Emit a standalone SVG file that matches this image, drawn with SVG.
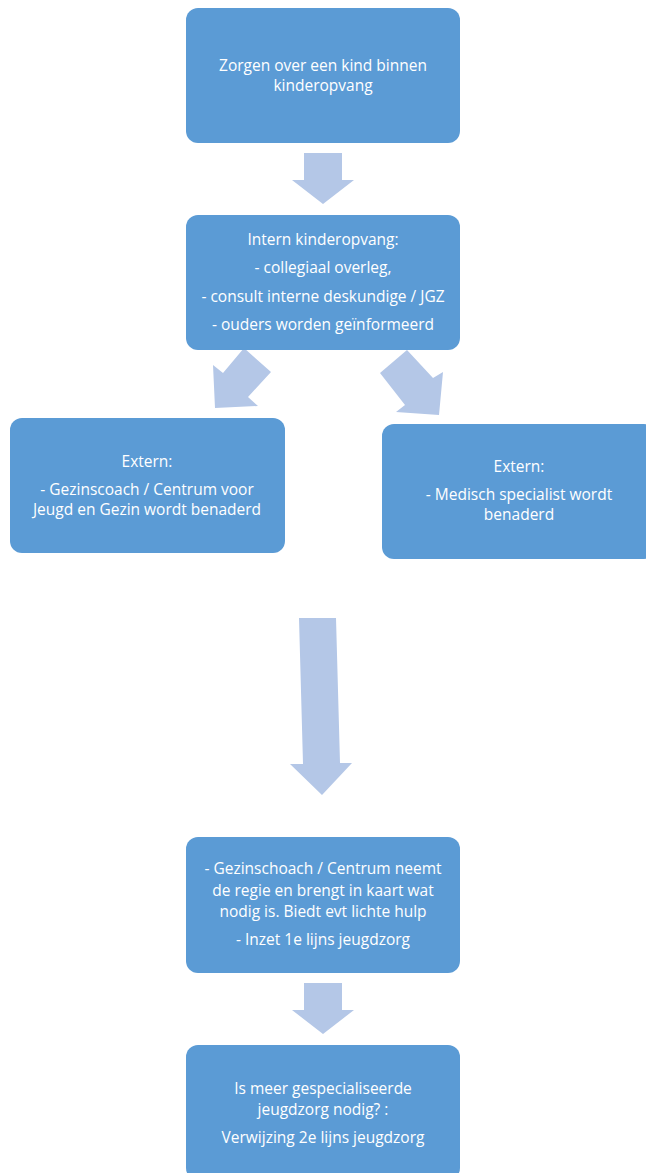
<svg xmlns="http://www.w3.org/2000/svg" width="646" height="1173" viewBox="0 0 646 1173">
<style>
.box{fill:#5B9BD5;}
.arr{fill:#B4C7E7;}
text{font-family:"Open Sans","Liberation Sans",Arial,sans-serif;font-size:15.5px;fill:#FFFFFF;text-anchor:middle;}
</style>
<rect width="646" height="1173" fill="#FFFFFF"/>
<g id="connectors">
<polygon class="arr" points="304,153 342,153 342,180 354,180 323,204 292,180 304,180"/>
<polygon class="arr" points="244,348 271,372 248,397 258,406 215,408 213,365 223,373"/>
<polygon class="arr" points="407,350 380,373 405,405 396,412 439,415 443,372 433,378"/>
<polygon class="arr" points="299,618 336,618 340,763 352,763 322,795 290,764 303,764"/>
<polygon class="arr" points="304,983 342,983 342,1010 354,1010 323,1034 292,1010 304,1010"/>
</g>
<g id="node1">
<rect class="box" x="186" y="8" width="274" height="135" rx="12"/>
<text x="323" y="71">Zorgen over een kind binnen</text>
<text x="323" y="91">kinderopvang</text>
</g>
<g id="node2">
<rect class="box" x="186" y="215" width="274" height="135" rx="12"/>
<text x="323" y="245">Intern kinderopvang:</text>
<text x="323" y="273">- collegiaal overleg,</text>
<text x="323" y="302">- consult interne deskundige / JGZ</text>
<text x="323" y="330">- ouders worden geïnformeerd</text>
</g>
<g id="node3">
<rect class="box" x="10" y="418" width="275" height="135" rx="12"/>
<text x="147" y="467">Extern:</text>
<text x="147" y="495">- Gezinscoach / Centrum voor</text>
<text x="147" y="515">Jeugd en Gezin wordt benaderd</text>
</g>
<g id="node4">
<rect class="box" x="382" y="424" width="274" height="135" rx="12"/>
<text x="519" y="472">Extern:</text>
<text x="519" y="500">- Medisch specialist wordt</text>
<text x="519" y="520">benaderd</text>
</g>
<g id="node5">
<rect class="box" x="186" y="837" width="274" height="136" rx="12"/>
<text x="323" y="874">- Gezinschoach / Centrum neemt</text>
<text x="323" y="896">de regie en brengt in kaart wat</text>
<text x="323" y="917">nodig is. Biedt evt lichte hulp</text>
<text x="323" y="945">- Inzet 1e lijns jeugdzorg</text>
</g>
<g id="node6">
<rect class="box" x="186" y="1045" width="274" height="135" rx="12"/>
<text x="323" y="1094">Is meer gespecialiseerde</text>
<text x="323" y="1115">jeugdzorg nodig? :</text>
<text x="323" y="1143">Verwijzing 2e lijns jeugdzorg</text>
</g>
</svg>
